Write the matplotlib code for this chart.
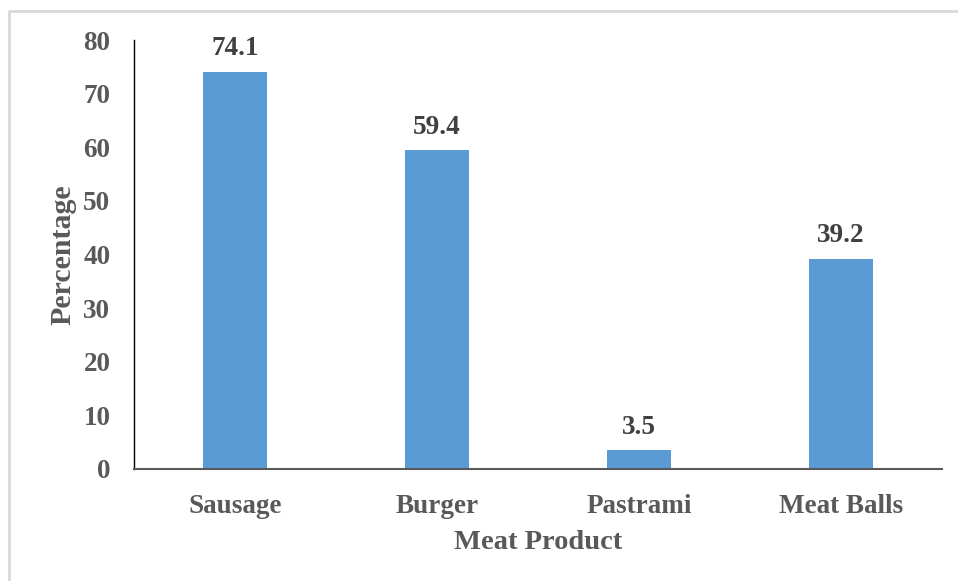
import matplotlib.pyplot as plt
from matplotlib.patches import Rectangle

products = ["Sausage", "Burger", "Pastrami", "Meat Balls"]
percent = [74.1, 59.4, 3.5, 39.2]
yticks = [0, 10, 20, 30, 40, 50, 60, 70, 80]

gray = "#595959"
plt.rcParams["font.family"] = ["Liberation Serif", "DejaVu Serif"]
plt.rcParams["font.weight"] = "bold"

fig = plt.figure(figsize=(9.58, 5.81), dpi=100)
W, H = 958, 581
ax = fig.add_axes([134 / W, 1 - 469 / H, (942 - 134) / W, (469 - 40) / H])

# light frame round the chart area (only top/left edges visible in the original)
fig.patches.append(Rectangle((9 / W, -0.1), 1.2, 1 - 11 / H + 0.1,
                             transform=fig.transFigure, fill=False,
                             edgecolor="#d9d9d9", linewidth=2))

bars = ax.bar(range(len(products)), percent, width=0.32, color="#5b9bd5")
for b, v in zip(bars, percent):
    ax.text(b.get_x() + b.get_width() / 2, v + 2.0, f"{v}", ha="center",
            va="bottom", fontsize=19.5, fontweight="bold", color="#404040")

ax.set_xlim(-0.5, 3.5)
ax.set_ylim(0, 80)
ax.set_yticks(yticks)
ax.set_xticks(range(len(products)))
ax.set_xticklabels(products)
ax.tick_params(length=0, labelsize=19.5, colors=gray)
ax.tick_params(axis="y", pad=17)
ax.tick_params(axis="x", pad=18)
for lab in ax.get_xticklabels() + ax.get_yticklabels():
    lab.set_fontweight("bold")

ax.spines["top"].set_visible(False)
ax.spines["right"].set_visible(False)
ax.spines["left"].set_color("black")
ax.spines["left"].set_linewidth(1.0)
ax.spines["bottom"].set_color(gray)
ax.spines["bottom"].set_linewidth(1.5)

ax.set_xlabel("Meat Product", fontsize=20.5, fontweight="bold", color=gray, labelpad=8)
ax.set_ylabel("Percentage", fontsize=21.5, fontweight="bold", color=gray, labelpad=5)

fig.savefig("out.png", dpi=100)
